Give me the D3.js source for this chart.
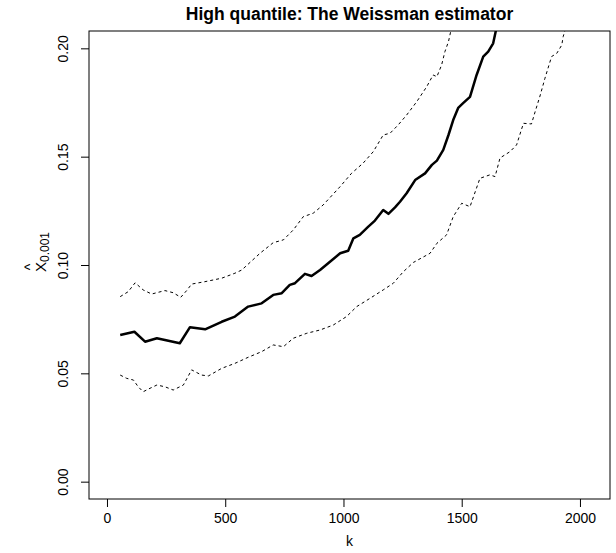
<!DOCTYPE html>
<html>
<head>
<meta charset="utf-8">
<script src="https://cdn.jsdelivr.net/npm/d3@7"></script>
<style>
  body { margin: 0; background: #fff; }
  svg { font-family: "Liberation Sans", Arial, sans-serif; }
</style>
</head>
<body>
<script>
// Weissman estimate of the 0.001 quantile against k, with upper / lower band

var kEst = [56, 116, 161, 211, 245, 308, 351, 415, 485, 541, 597, 654, 703,
    739, 773, 795, 837, 865, 901, 943, 986, 1020, 1042, 1069, 1105, 1133,
    1168, 1190, 1218, 1239, 1267, 1303, 1345, 1374, 1395, 1422, 1444, 1464,
    1485, 1507, 1535, 1563, 1591, 1612, 1633, 1650];
var estVals = [0.0677, 0.0692, 0.0646, 0.0662, 0.0654, 0.0639, 0.0713,
    0.0703, 0.0738, 0.0762, 0.0808, 0.0823, 0.0862, 0.0870, 0.0908, 0.0916,
    0.0959, 0.0949, 0.0977, 0.1015, 0.1054, 0.1066, 0.1123, 0.1139, 0.1177,
    0.1205, 0.1254, 0.1236, 0.1266, 0.1292, 0.1331, 0.1392, 0.1423, 0.1462,
    0.1482, 0.1531, 0.1600, 0.1669, 0.1725, 0.1748, 0.1776, 0.1877, 0.1962,
    0.1985, 0.2023, 0.2110];

var kUpper = [56, 90, 119, 153, 189, 245, 280, 312, 337, 358, 414, 485, 541,
    570, 647, 703, 746, 788, 830, 872, 914, 986, 1034, 1083, 1126, 1168,
    1197, 1231, 1267, 1310, 1352, 1379, 1395, 1415, 1429, 1444, 1460];
var upperVals = [0.0854, 0.0877, 0.0918, 0.0885, 0.0866, 0.0882, 0.0872,
    0.0851, 0.0882, 0.0912, 0.0923, 0.0939, 0.0962, 0.0977, 0.1054, 0.1103,
    0.1116, 0.1162, 0.1223, 0.1239, 0.1277, 0.1362, 0.1423, 0.1470, 0.1523,
    0.1600, 0.1608, 0.1646, 0.1692, 0.1754, 0.1823, 0.1877, 0.1869, 0.1923,
    0.1985, 0.2031, 0.2110];

var kLower = [56, 83, 112, 132, 153, 182, 211, 245, 280, 323, 358, 400, 429,
    485, 541, 597, 654, 703, 746, 788, 845, 901, 957, 1013, 1056, 1112, 1168,
    1211, 1253, 1296, 1366, 1395, 1436, 1464, 1500, 1535, 1577, 1619, 1641,
    1662, 1704, 1732, 1761, 1795, 1810, 1831, 1852, 1880, 1902, 1923, 1929,
    1936];
var lowerVals = [0.0492, 0.0477, 0.0469, 0.0438, 0.0415, 0.0431, 0.0446,
    0.0438, 0.0423, 0.0446, 0.0516, 0.0492, 0.0488, 0.0523, 0.0546, 0.0574,
    0.0600, 0.0631, 0.0623, 0.0662, 0.0685, 0.0700, 0.0723, 0.0762, 0.0808,
    0.0846, 0.0885, 0.0916, 0.0969, 0.1012, 0.1054, 0.1100, 0.1139, 0.1223,
    0.1285, 0.1269, 0.1400, 0.1416, 0.1408, 0.1494, 0.1523, 0.1554, 0.1654,
    0.1651, 0.1706, 0.1780, 0.1862, 0.1962, 0.1977, 0.2015, 0.2054, 0.2080];

var xTicks = [0, 500, 1000, 1500, 2000];
var yTicks = [0.00, 0.05, 0.10, 0.15, 0.20];

var W = 616, H = 553;
var box = {left: 89, right: 610, top: 31, bottom: 499};

var svg = d3.select("body").append("svg")
    .attr("width", W)
    .attr("height", H);

svg.append("rect")
    .attr("width", W)
    .attr("height", H)
    .attr("fill", "#fff");

var x = d3.scaleLinear().domain([-76, 2127]).range([box.left, box.right]);
var y = d3.scaleLinear().domain([-0.008, 0.208]).range([box.bottom, box.top]);

svg.append("clipPath").attr("id", "plotclip")
  .append("rect")
    .attr("x", box.left)
    .attr("y", box.top)
    .attr("width", box.right - box.left)
    .attr("height", box.bottom - box.top);

var plot = svg.append("g").attr("clip-path", "url(#plotclip)");

function drawLine(ks, vals, width, dash) {
    var pts = ks.map(function(k, i) { return [k, vals[i]]; });
    var line = d3.line()
        .x(function(d) { return x(d[0]); })
        .y(function(d) { return y(d[1]); });
    plot.append("path")
        .datum(pts)
        .attr("d", line)
        .attr("fill", "none")
        .attr("stroke", "#000")
        .attr("stroke-width", width)
        .attr("stroke-linejoin", "round")
        .attr("stroke-dasharray", dash);
}

drawLine(kUpper, upperVals, 1, "3,3");
drawLine(kLower, lowerVals, 1, "3,3");
drawLine(kEst, estVals, 2.5, null);

// box
svg.append("rect")
    .attr("x", box.left)
    .attr("y", box.top)
    .attr("width", box.right - box.left)
    .attr("height", box.bottom - box.top)
    .attr("fill", "none")
    .attr("stroke", "#000")
    .attr("stroke-width", 1);

var xAxis = svg.append("g")
    .attr("transform", "translate(0," + box.bottom + ")")
    .call(d3.axisBottom(x).tickValues(xTicks).tickSize(8).tickPadding(6)
        .tickFormat(d3.format("d")));
xAxis.select(".domain").remove();
xAxis.selectAll("text")
    .attr("font-size", 14)
    .attr("font-family", "Liberation Sans, Arial, sans-serif")
    .attr("fill", "#000");

var yAxis = svg.append("g")
    .attr("transform", "translate(" + box.left + ",0)")
    .call(d3.axisLeft(y).tickValues(yTicks).tickSize(8)
        .tickFormat(d3.format(".2f")));
yAxis.select(".domain").remove();
yAxis.selectAll("text")
    .attr("transform", "rotate(-90)")
    .attr("x", 0)
    .attr("y", -21)
    .attr("dy", 0)
    .attr("text-anchor", "middle")
    .attr("font-size", 14)
    .attr("font-family", "Liberation Sans, Arial, sans-serif")
    .attr("fill", "#000");

// title
svg.append("text")
    .attr("x", (box.left + box.right) / 2)
    .attr("y", 20)
    .attr("text-anchor", "middle")
    .attr("font-size", 17.5)
    .attr("font-weight", "bold")
    .text("High quantile: The Weissman estimator");

// x label
svg.append("text")
    .attr("x", (box.left + box.right) / 2)
    .attr("y", 546)
    .attr("text-anchor", "middle")
    .attr("font-size", 14)
    .text("k");

// y label: x-hat with subscript 0.001, rotated
var ylab = svg.append("g")
    .attr("transform", "translate(46,250) rotate(-90)");
var ylabText = ylab.append("text")
    .attr("x", -22)
    .attr("y", 0)
    .attr("text-anchor", "start")
    .attr("font-size", 15);
ylabText.append("tspan").text("X");
ylabText.append("tspan")
    .attr("font-size", 12)
    .attr("dy", 3)
    .text("0.001");
ylab.append("text")
    .attr("x", -17)
    .attr("y", -11)
    .attr("text-anchor", "middle")
    .attr("font-size", 14)
    .text("^");
</script>
</body>
</html>
